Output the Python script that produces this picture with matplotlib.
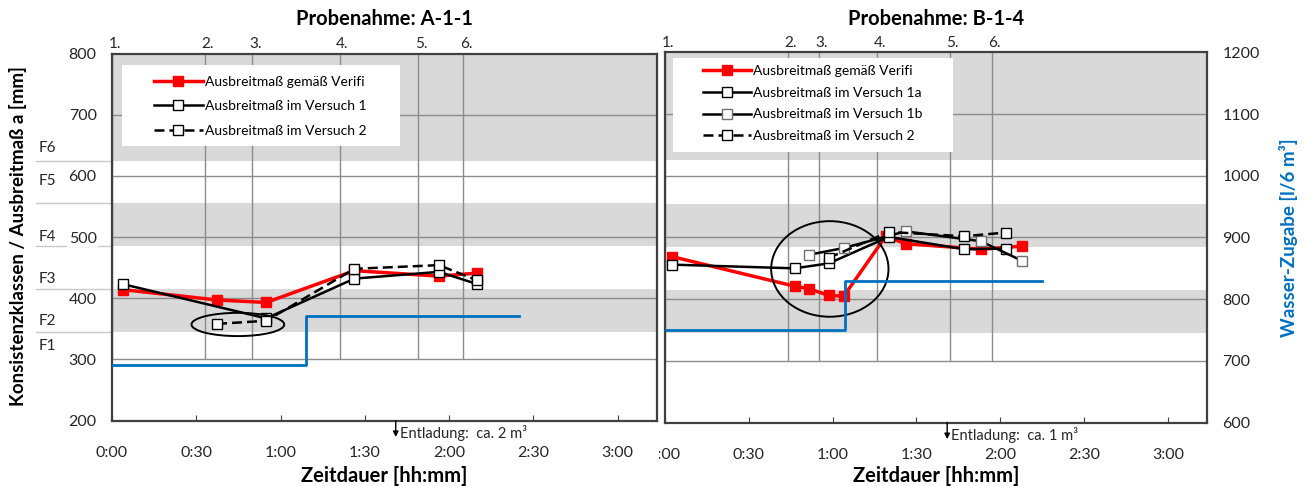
import matplotlib.pyplot as plt
import matplotlib.transforms as mtransforms
from matplotlib.patches import Ellipse, Rectangle

plt.rcParams['font.family'] = ['Lato', 'DejaVu Sans']

W, H = 1309, 486

# time axis in minutes
time_ticks = [0, 30, 60, 90, 120, 150, 180]
time_labels = ['0:00', '0:30', '1:00', '1:30', '2:00', '2:30', '3:00']

# consistency classes
f_bands = [(345, 415), (485, 555), (625, 800)]
f_bounds = [345, 415, 485, 555, 625]
f_names = ['F1', 'F2', 'F3', 'F4', 'F5', 'F6']
f_label_y = [321, 363, 432, 500, 591, 645]

sample_names = ['1.', '2.', '3.', '4.', '5.', '6.']

# Probenahme A-1-1
a_samples = [0, 33, 50, 81, 109, 125]
a_verifi_t = [3.8, 37.4, 54.9, 86.3, 116.4, 130]
a_verifi = [414, 397, 393, 445, 436, 441]
a_v1_t = [3.8, 54.9, 86.3, 116.4, 130]
a_v1 = [423, 367, 432, 443, 423]
a_v2_t = [37.4, 54.9, 86.3, 116.4, 130]
a_v2 = [358, 363, 448, 454, 429]
a_water_t = [0, 69, 145]
a_water = [691, 771, 771]

# Probenahme B-1-4
b_samples = [0, 44, 55, 76, 102, 117]
b_verifi_t = [2.5, 46.4, 51.5, 58.6, 64.0, 79.0, 86.1, 113.0, 127.9]
b_verifi = [469, 421, 417, 406, 405, 502, 490, 481, 486]
b_v1a_t = [2.5, 46.4, 58.6, 80.1, 107.0, 121.9]
b_v1a = [456, 450, 458, 501, 481, 482]
b_v1b_t = [51.5, 64.0, 86.1, 113.0, 127.9]
b_v1b = [472, 483, 510, 494, 462]
b_v2_t = [58.6, 80.1, 107.0, 121.9]
b_v2 = [467, 509, 502, 508]
b_water_t = [0, 64.5, 135]
b_water = [750, 830, 830]

GRID = '#8c8c8c'
BAND = '#d9d9d9'
SPINE = '#404040'
TXT = '#262626'
BLUE = '#0070c0'
TICK_FS = 11.5

fig = plt.figure(figsize=(W / 100, H / 100), dpi=100)


def add_px_axes(x0, x1, y0, y1):
    return fig.add_axes([x0 / W, 1 - y1 / H, (x1 - x0) / W, (y1 - y0) / H])


def frac(box, px, py):
    x0, x1, y0, y1 = box
    return (px - x0) / (x1 - x0), (y1 - py) / (y1 - y0)


def style_kw(kind):
    if kind == 'verifi':
        return dict(color='red', lw=2.5, marker='s', ms=7.5, mfc='red', mec='red', zorder=4)
    if kind == 'v1':
        return dict(color='black', lw=1.8, marker='s', ms=7.5, mfc='white', mec='black', mew=1, zorder=5)
    if kind == 'v1b':
        return dict(color='black', lw=1.8, marker='s', ms=6.5, mfc='white', mec='#707070', mew=1, zorder=5)
    return dict(color='black', lw=1.8, ls=(0, (4, 2)), marker='s', ms=7.5, mfc='white', mec='black',
                mew=1, zorder=6)


def draw_panel(box, title, samples, series, water_t, water, ell, discharge, legend_box, legend_anchor, spacing):
    ax = add_px_axes(*box)
    ax.set_xlim(0, 194)
    ax.set_ylim(200, 800)
    for lo, hi in f_bands:
        ax.axhspan(lo, hi, color=BAND, lw=0, zorder=0)
    for v in range(300, 800, 100):
        ax.axhline(v, color=GRID, lw=1, zorder=1)
    ax.vlines(samples, 300, 800, color=GRID, lw=1, zorder=1)
    trans = mtransforms.blended_transform_factory(ax.transData, ax.transAxes)
    for s, name in zip(samples, sample_names):
        ax.text(s + 1, 1.006, name, transform=trans, ha='center', va='bottom', fontsize=11, color=TXT)

    for t, v, label, kind in series:
        ax.plot(t, v, label=label, **style_kw(kind))

    ax.add_patch(Ellipse(ell[0], ell[1], ell[2], fill=False, edgecolor='black', lw=1.4, zorder=7))

    # legend on a white box
    lx0, ly0 = frac(box, legend_box[0], legend_box[3])
    lx1, ly1 = frac(box, legend_box[1], legend_box[2])
    ax.add_patch(Rectangle((lx0, ly0), lx1 - lx0, ly1 - ly0, transform=ax.transAxes,
                           facecolor='white', edgecolor='none', zorder=3))
    ax.legend(loc='upper left', bbox_to_anchor=frac(box, *legend_anchor), frameon=False,
              fontsize=10, handlelength=3.5, handletextpad=0.15, labelspacing=spacing,
              borderaxespad=0, borderpad=0)

    ax.set_xticks(time_ticks)
    ax.set_xticklabels(time_labels)
    ax.set_yticks(range(200, 801, 100))
    ax.tick_params(axis='x', direction='in', length=4, pad=18, labelsize=TICK_FS,
                   color=SPINE, labelcolor=TXT)
    ax.tick_params(axis='y', length=0, pad=11, labelsize=TICK_FS, labelcolor=TXT)
    for sp in ax.spines.values():
        sp.set_color(SPINE)
        sp.set_linewidth(1.6)

    # water addition on the secondary axis
    ax2 = ax.twinx()
    ax2.set_ylim(600, 1200)
    ax2.plot(water_t, water, drawstyle='steps-post', color=BLUE, lw=2)
    for sp in ax2.spines.values():
        sp.set_visible(False)

    # unloading marker
    ax.annotate('', xy=(discharge[0], -0.045), xycoords=trans, xytext=(discharge[0], 0.0),
                textcoords=trans, annotation_clip=False,
                arrowprops=dict(arrowstyle='-|>', color='black', lw=1, mutation_scale=8, shrinkA=0, shrinkB=0))
    ax.text(discharge[0] + 1.5, -0.034, discharge[1], transform=trans, ha='left', va='center',
            fontsize=10.5, color=TXT)

    cx = (box[0] + box[1]) / 2
    fig.text(cx / W, 1 - 19 / H, title, ha='center', va='center', fontsize=14.5, fontweight='bold')
    fig.text(cx / W, 1 - 476 / H, 'Zeitdauer [hh:mm]', ha='center', va='center',
             fontsize=14.5, fontweight='bold')
    return ax, ax2


box_a = (112, 657, 53.5, 420.5)
ax_a, ax2_a = draw_panel(
    box_a, 'Probenahme: A-1-1', a_samples,
    [(a_verifi_t, a_verifi, 'Ausbreitmaß gemäß Verifi', 'verifi'),
     (a_v1_t, a_v1, 'Ausbreitmaß im Versuch 1', 'v1'),
     (a_v2_t, a_v2, 'Ausbreitmaß im Versuch 2', 'v2')],
    a_water_t, a_water, ((44.8, 357), 33, 38), (101, 'Entladung:  ca. 2 m³'),
    (121.5, 400, 65, 145.7), (154, 75.5), 0.9)
ax2_a.set_yticks([])

box_b = (665, 1207, 52.5, 422.5)
ax_b, ax2_b = draw_panel(
    box_b, 'Probenahme: B-1-4', b_samples,
    [(b_verifi_t, b_verifi, 'Ausbreitmaß gemäß Verifi', 'verifi'),
     (b_v1a_t, b_v1a, 'Ausbreitmaß im Versuch 1a', 'v1'),
     (b_v1b_t, b_v1b, 'Ausbreitmaß im Versuch 1b', 'v1b'),
     (b_v2_t, b_v2, 'Ausbreitmaß im Versuch 2', 'v2')],
    b_water_t, b_water, ((59, 449), 42, 155), (101, 'Entladung:  ca. 1 m³'),
    (673, 953, 58.3, 151.7), (702.7, 65), 0.7)
ax_b.tick_params(axis='y', labelleft=False)
ax2_b.set_yticks(range(600, 1201, 100))
ax2_b.tick_params(axis='y', length=0, pad=11, labelsize=TICK_FS, labelcolor=TXT)

# consistency class labels and boundary strokes left of panel A
ytrans = mtransforms.blended_transform_factory(ax_a.transAxes, ax_a.transData)
x_left = (36 - 112) / (657 - 112)
for b in f_bounds:
    ax_a.plot([x_left, 0], [b, b], transform=ytrans, color='#c8c8c8', lw=1, clip_on=False, zorder=0)
for name, y in zip(f_names, f_label_y):
    ax_a.text((39 - 112) / (657 - 112), y, name, transform=ytrans, ha='left', va='center',
              fontsize=11, color=TXT)
for lab in ax_a.get_yticklabels():
    lab.set_bbox(dict(facecolor='white', edgecolor='none', pad=1))

fig.text(18 / W, 1 - 236 / H, 'Konsistenzklassen / Ausbreitmaß a [mm]', rotation=90,
         ha='center', va='center', fontsize=13.5, fontweight='bold')
fig.text(1288 / W, 1 - 238 / H, 'Wasser-Zugabe [l/6 m³]', rotation=90, ha='center', va='center',
         fontsize=13.5, fontweight='bold', color=BLUE)

# left chart covers the first digit of the right chart's 0:00
fig.add_artist(Rectangle((640 / W, 1 - 466 / H), 18.5 / W, 30 / H, transform=fig.transFigure,
                         facecolor='white', edgecolor='none', zorder=10))

fig.savefig('out.png', dpi=100)
